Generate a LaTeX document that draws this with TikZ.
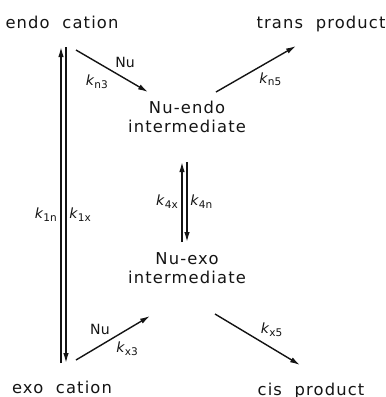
\documentclass[tikz,border=0pt]{standalone}
\usepackage{fontspec}
\setmainfont{DejaVu Sans}
\newfontfamily\lettrage[LetterSpace=7]{DejaVu Sans}
\usepackage{tikz}
\usetikzlibrary{arrows.meta,calc}
\definecolor{encre}{RGB}{20,20,20}
\tikzset{
  espece/.style={inner sep=0pt, align=center, text=encre,
                 font=\lettrage\fontsize{9.3}{10.4}\selectfont, text height=1.5ex, text depth=.25ex},
  taux/.style={inner sep=1.5pt, text=encre, font=\fontsize{8}{8}\selectfont},
  arr/.style={-{Latex[length=2mm,width=1.1mm]}, line width=0.8pt, draw=encre},
}
\newcommand{\kk}[1]{\textit{k}\textsubscript{#1}}

\begin{document}
\begin{tikzpicture}[x=0.02cm, y=-0.02cm]
        \useasboundingbox (0,0) rectangle (386,397);
        \node[espece] (endo) at (62,22) {endo\ \ cation};
        \node[espece] (trans) at (321,22) {trans\ \ product};
        \node[espece] (nuendo) at (187,126) {Nu-endo\\intermediate};
        \node[espece] (nuexo) at (187,277) {Nu-exo\\intermediate};
        \node[espece] (exo) at (62,387) {exo\ \ cation};
        \node[espece] (cis) at (311,389) {cis\ \ product};
        % endo <-> exo
        \draw[arr] ([shift={(-1,-24)}]exo.center) -- ([shift={(-1,25)}]endo.center)
          node[taux, pos=.47, left] {\kk{1n}};
        \draw[arr] ([shift={(4,25)}]endo.center) -- ([shift={(4,-24)}]exo.center)
          node[taux, pos=.53, right] {\kk{1x}};
        % Nu-endo <-> Nu-exo
        \draw[arr] ([shift={(-5,-35)}]nuexo.center) -- ([shift={(-5,36)}]nuendo.center)
          node[taux, midway, left] {\kk{4x}};
        \draw[arr] ([shift={(0,36)}]nuendo.center) -- ([shift={(0,-35)}]nuexo.center)
          node[taux, midway, right] {\kk{4n}};
        % capture
        \draw[arr] ([shift={(14,28)}]endo.center) -- ([shift={(-39,-34)}]nuendo.center)
          node[taux, midway, above right] {Nu}
          node[taux, midway, below left] {\kk{n3}};
        \draw[arr] ([shift={(14,-27)}]exo.center) -- ([shift={(-37,39)}]nuexo.center)
          node[taux, midway, above left] {Nu}
          node[taux, midway, below right] {\kk{x3}};
        % products
        \draw[arr] ([shift={(29,-34)}]nuendo.center) -- ([shift={(-25,24)}]trans.center)
          node[taux, midway, below right] {\kk{n5}};
        \draw[arr] ([shift={(28,37)}]nuexo.center) -- ([shift={(-11,-24)}]cis.center)
          node[taux, midway, above right] {\kk{x5}};
      \end{tikzpicture}
\end{document}
